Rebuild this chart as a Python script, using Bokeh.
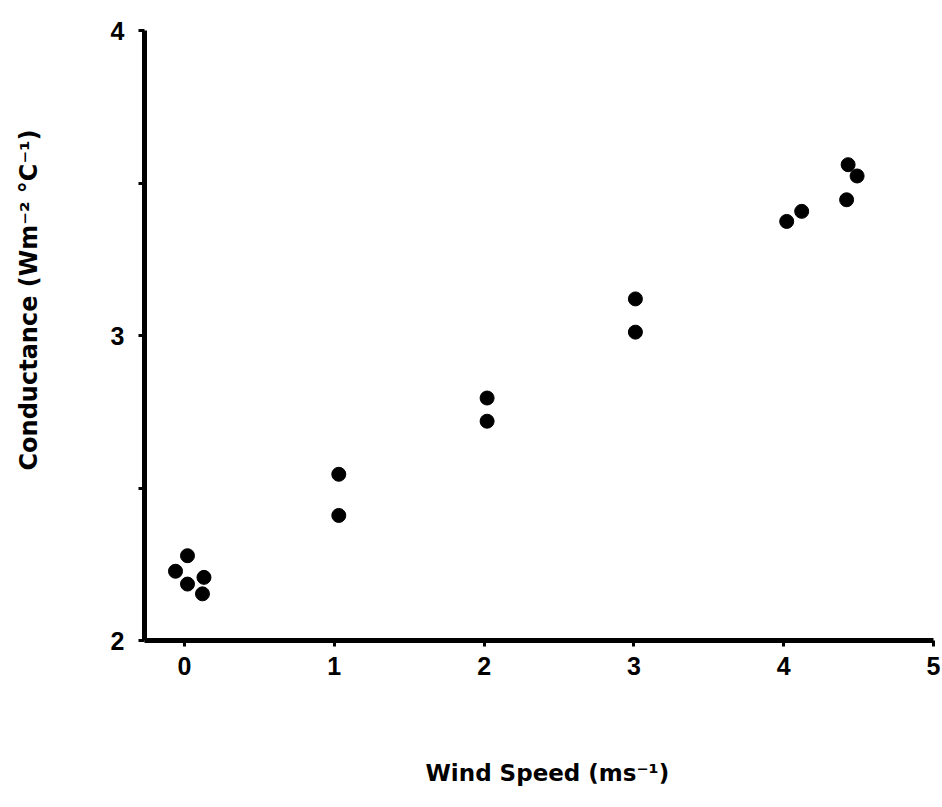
from bokeh.plotting import figure
from bokeh.models import FixedTicker, Range1d, Title, LinearAxis
from bokeh.embed import file_html
from bokeh.resources import INLINE

# Data
wind_speed = [0.02, -0.06, 0.02, 0.13, 0.12,
              1.03, 1.03,
              2.02, 2.02,
              3.01, 3.01,
              4.02, 4.12, 4.42, 4.43, 4.49]
conductance = [2.278, 2.227, 2.185, 2.207, 2.153,
               2.545, 2.410,
               2.795, 2.719,
               3.120, 3.011,
               3.374, 3.407, 3.445, 3.560, 3.523]

x_ticks = [0, 1, 2, 3, 4, 5]
y_ticks = [2, 2.5, 3, 3.5, 4]
y_labels = {2: "2", 2.5: "", 3: "3", 3.5: "", 4: "4"}
x_title = "Wind Speed (ms\u207b\u00b9)"
y_title = "Conductance (Wm\u207b\u00b2 \u00b0C\u207b\u00b9)"

W, H = 942, 807
p = figure(width=W, height=H, output_backend="svg", toolbar_location=None,
           x_range=Range1d(-0.267, 5.0), y_range=Range1d(2, 4),
           min_border_left=144, min_border_right=9, min_border_top=30,
           min_border_bottom=167)

p.outline_line_color = None
p.xgrid.grid_line_color = None
p.ygrid.grid_line_color = None
p.background_fill_color = "white"

p.scatter(wind_speed, conductance, size=14, color="black")

for ax in (p.xaxis[0], p.yaxis[0]):
    ax.axis_line_width = 5
    ax.axis_line_color = "black"
    ax.major_tick_line_width = 3
    ax.major_tick_in = 0
    ax.major_tick_out = 6
    ax.minor_tick_line_color = None
    ax.major_label_text_font = "Liberation Sans"
    ax.major_label_text_font_style = "bold"
    ax.major_label_text_font_size = "25px"
    ax.major_label_text_color = "black"

p.xaxis[0].ticker = FixedTicker(ticks=x_ticks)
p.yaxis[0].ticker = FixedTicker(ticks=y_ticks)
p.yaxis[0].major_label_overrides = y_labels
p.xaxis[0].major_label_standoff = 10
p.yaxis[0].major_label_standoff = 14


def spacer(width, at):
    # an empty, white-on-white axis used only to reserve room before the title
    return LinearAxis(ticker=FixedTicker(ticks=[at]), axis_line_color=None,
                      major_tick_out=width, major_tick_in=0,
                      major_tick_line_color="white", major_tick_line_width=1,
                      minor_tick_line_color=None,
                      major_label_overrides={at: ""},
                      major_label_standoff=0, major_label_text_font_size="1px")


def make_title(label, offset, standoff, size, valign):
    return Title(text=label, align="left", offset=offset, standoff=standoff,
                 vertical_align=valign,
                 text_font="DejaVu Sans", text_font_style="bold",
                 text_font_size=size, text_color="black")


p.add_layout(spacer(79, -0.2), "below")
p.add_layout(make_title(x_title, 281, 6, "23px", "top"), "below")
p.add_layout(spacer(62, 2.5), "left")
p.add_layout(make_title(y_title, 170, 6, "24px", "bottom"), "left")

open("out.html", "w").write(file_html(p, INLINE))
